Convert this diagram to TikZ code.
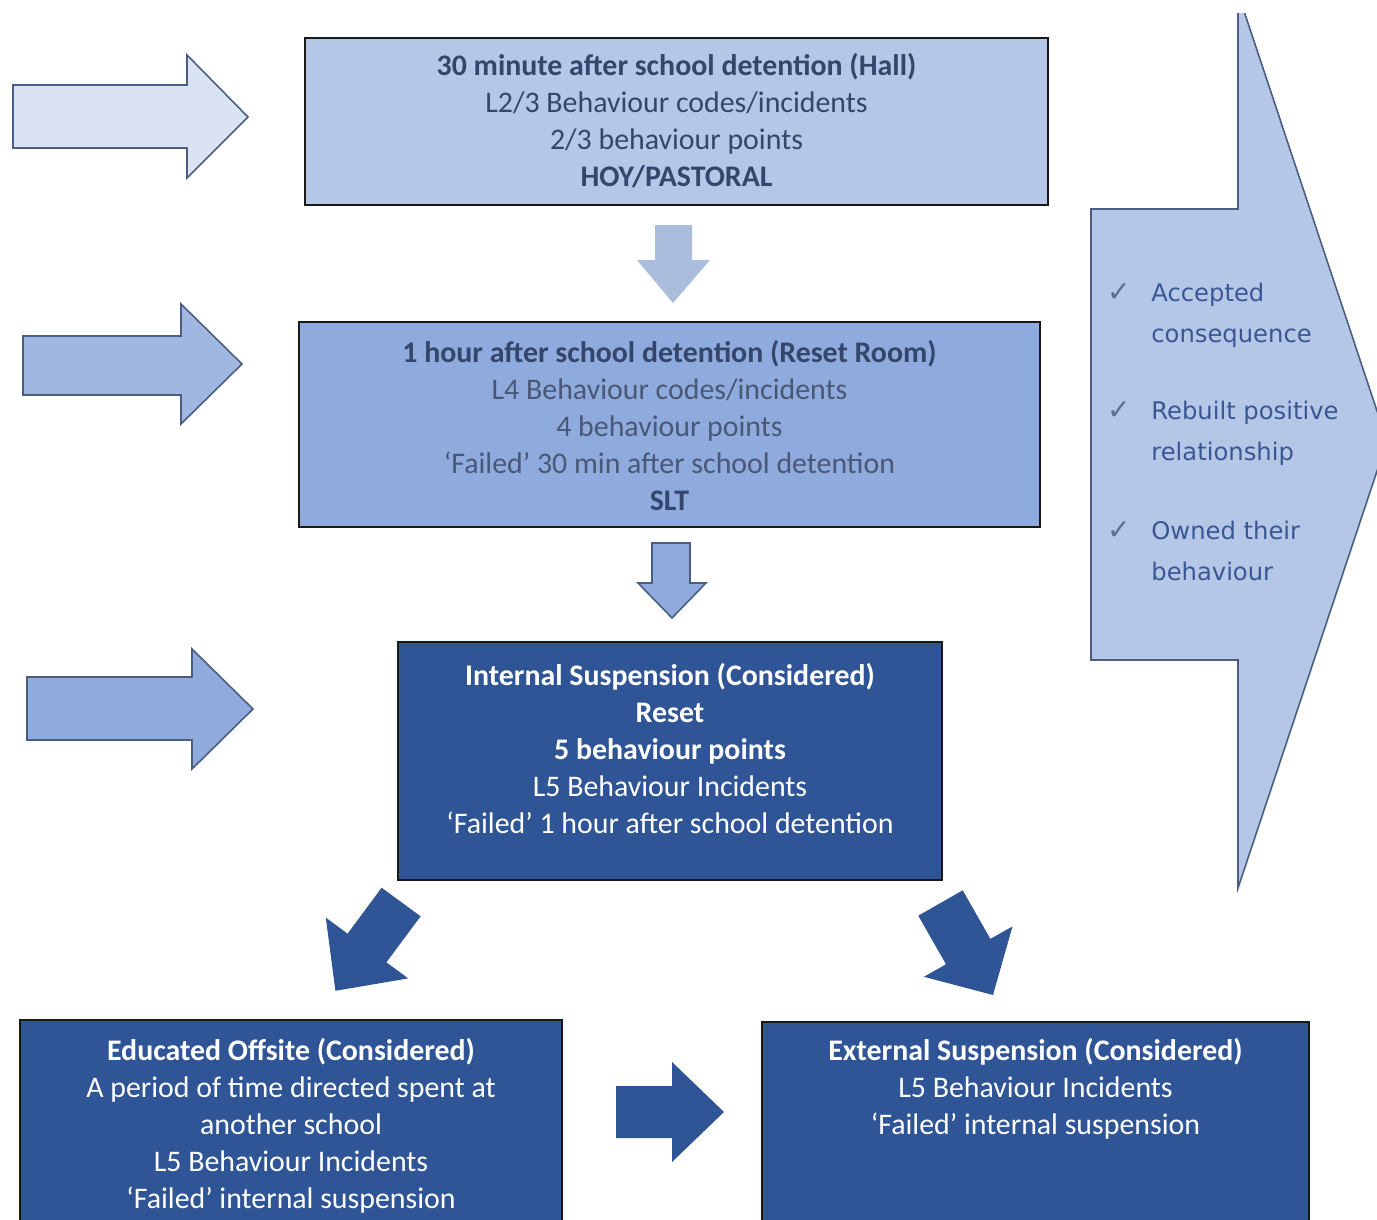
\documentclass[tikz,border=0pt]{standalone}
\usepackage{fontspec}
\setmainfont{Carlito}
\newfontfamily\listfont{DejaVu Sans}
\usetikzlibrary{positioning}

\definecolor{paleblue}{HTML}{DAE3F3}
\definecolor{lightblue}{HTML}{B4C7E7}
\definecolor{midblue}{HTML}{8FAADC}
\definecolor{darkblue}{HTML}{2F5597}
\definecolor{slatetext}{HTML}{34466B}
\definecolor{greytext}{HTML}{4A5877}
\definecolor{edgeblue}{HTML}{4B5D80}
\definecolor{listblue}{HTML}{3A5794}
\definecolor{tickgrey}{HTML}{5D6D8C}

\tikzset{
  stagebox/.style={draw=black!90, line width=1.2pt, inner sep=0pt},
  stagetext/.style={align=center, inner sep=0pt, font=\fontsize{17}{21}\selectfont},
  outlinearrow/.style={draw=edgeblue, line width=0.9pt, line join=miter},
  listtext/.style={align=left, inner sep=0pt, anchor=north west, text=listblue, font=\listfont\fontsize{13.8}{23.3}\selectfont},
  tickmark/.style={inner sep=0pt, text=tickgrey, font=\listfont\fontsize{16}{18}\selectfont}
}

\begin{document}
\begin{tikzpicture}[x=0.02cm, y=-0.02cm]
\clip (0,0) rectangle (1377,1220);
\fill[white] (0,0) rectangle (1377,1220);

% big arrow on the right
\begin{scope}
\clip (1000,14) rectangle (1400,1000);
\draw[outlinearrow, fill=lightblue] (1091,209) -- (1238,209) -- (1238,-7) -- (1387,441) -- (1238,888) -- (1238,660) -- (1091,660) -- cycle;
\end{scope}
\node[tickmark] (tickAccepted) at (1119,293) {✓};
\node[listtext] (itemAccepted) at (1151,283) {Accepted\\consequence};
\node[tickmark] (tickRebuilt) at (1119,411) {✓};
\node[listtext] (itemRebuilt) at (1151,401) {Rebuilt positive\\relationship};
\node[tickmark] (tickOwned) at (1119,531) {✓};
\node[listtext] (itemOwned) at (1151,521) {Owned their\\behaviour};

% arrows coming in from the left
\draw[outlinearrow, fill=paleblue] (13,85) -- (187,85) -- (187,55) -- (248,117) -- (187,178) -- (187,148) -- (13,148) -- cycle;
\draw[outlinearrow, fill=midblue!85!white] (23,336) -- (181,336) -- (181,304) -- (242,364) -- (181,424) -- (181,395) -- (23,395) -- cycle;
\draw[outlinearrow, fill=midblue] (27,677) -- (192,677) -- (192,649) -- (253,709) -- (192,769) -- (192,740) -- (27,740) -- cycle;

% down the middle
\fill[lightblue!95!black] (655,225) -- (692,225) -- (692,260) -- (710,260) -- (673,303) -- (637,260) -- (655,260) -- cycle;
\draw[outlinearrow, fill=midblue] (652,543) -- (690,543) -- (690,583) -- (706,583) -- (672,618) -- (638,583) -- (652,583) -- cycle;

% towards the two outcomes
\fill[darkblue] (381.6,887.7) -- (420.6,916.3) -- (386.4,962.3) -- (408.2,978.4) -- (335.4,990.8) -- (325.8,917.6) -- (347.6,933.7) -- cycle;
\fill[darkblue] (962.7,890.3) -- (990.4,938.9) -- (1012.5,926.4) -- (993,995) -- (923.9,976.8) -- (946,964.3) -- (918.3,915.7) -- cycle;
\fill[darkblue] (616,1086) -- (672,1086) -- (672,1062) -- (724,1112) -- (672,1162) -- (672,1138) -- (616,1138) -- cycle;

% stage boxes
\node[stagebox, fill=lightblue, minimum width=14.86cm, minimum height=3.34cm] (detHall) at (676.5,121.5) {};
\node[stagetext, text=slatetext, below=0.33cm of detHall.north] (detHallText) {\textbf{30 minute after school detention (Hall)}\\L2/3 Behaviour codes/incidents\\2/3 behaviour points\\\textbf{HOY/PASTORAL}};

\node[stagebox, fill=midblue, minimum width=14.82cm, minimum height=4.10cm] (detReset) at (669.5,424.5) {};
\node[stagetext, text=slatetext, below=0.39cm of detReset.north] (detResetText) {\textbf{1 hour after school detention (Reset Room)}\\\textcolor{greytext}{L4 Behaviour codes/incidents}\\\textcolor{greytext}{4 behaviour points}\\\textcolor{greytext}{‘Failed’ 30 min after school detention}\\\textbf{SLT}};

\node[stagebox, fill=darkblue, minimum width=10.88cm, minimum height=4.76cm] (intSusp) at (670,761) {};
\node[stagetext, text=white, below=0.45cm of intSusp.north] (intSuspText) {\textbf{Internal Suspension (Considered)}\\\textbf{Reset}\\\textbf{5 behaviour points}\\L5 Behaviour Incidents\\‘Failed’ 1 hour after school detention};

\node[stagebox, fill=darkblue, minimum width=10.84cm, minimum height=4.8cm] (offsite) at (291,1140) {};
\node[stagetext, text=white, below=0.39cm of offsite.north] (offsiteText) {\textbf{Educated Offsite (Considered)}\\A period of time directed spent at\\another school\\L5 Behaviour Incidents\\‘Failed’ internal suspension};

\node[stagebox, fill=darkblue, minimum width=10.94cm, minimum height=4.8cm] (extSusp) at (1035.5,1142) {};
\node[stagetext, text=white, below=0.35cm of extSusp.north] (extSuspText) {\textbf{External Suspension (Considered)}\\L5 Behaviour Incidents\\‘Failed’ internal suspension};
\end{tikzpicture}
\end{document}
